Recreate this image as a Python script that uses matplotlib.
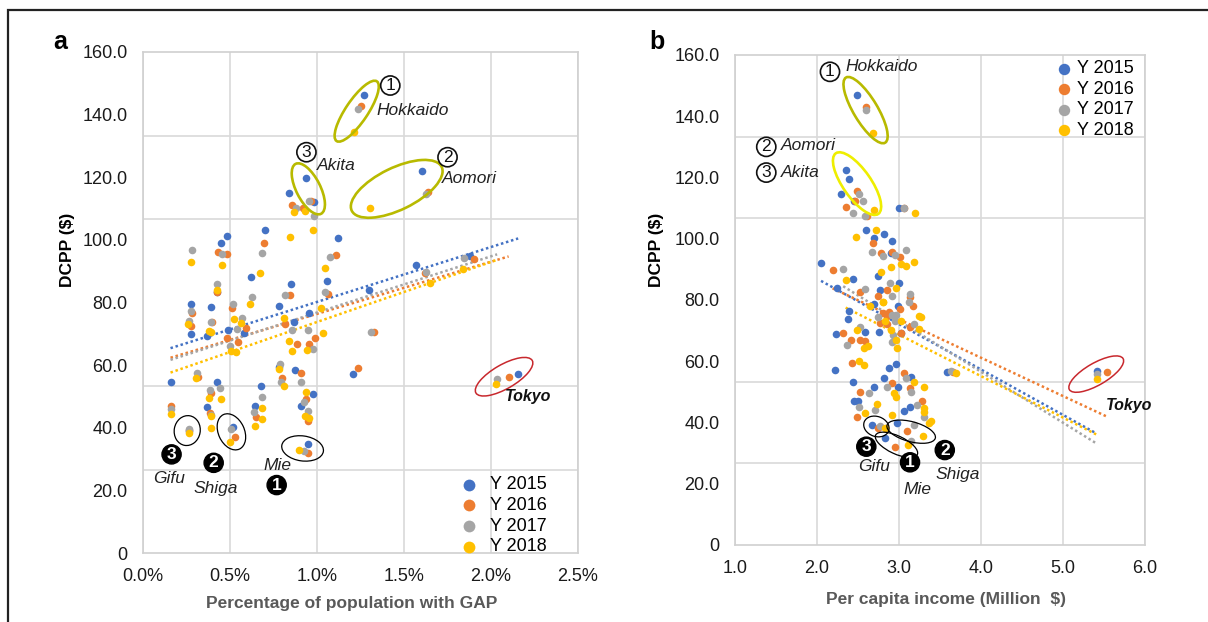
import numpy as np
import matplotlib
matplotlib.use('Agg')
import matplotlib.pyplot as plt
import matplotlib.transforms as mtransforms
from matplotlib.patches import Ellipse, Rectangle

plt.rcParams['font.family'] = ['Liberation Sans', 'DejaVu Sans']

years = ['Y 2015', 'Y 2016', 'Y 2017', 'Y 2018']
colors = ['#4472C4', '#ED7D31', '#A5A5A5', '#FFC000']

# panel a: percentage of population with GAP (%) -> DCPP ($)
gap_2015 = [(1.268, 146.3), (0.937, 119.7), (0.981, 112.0), (1.601, 122.0), (0.837, 114.9),
            (0.702, 103.3), (0.481, 101.3), (0.446, 99.0), (1.123, 100.6), (1.060, 87.0),
            (0.619, 88.2), (0.850, 85.9), (0.423, 83.5), (0.779, 79.0), (0.277, 79.5),
            (0.388, 78.6), (0.956, 76.8), (1.300, 84.0), (1.568, 91.9), (1.877, 94.9),
            (0.277, 70.1), (0.369, 69.3), (0.488, 71.3), (0.581, 70.4), (0.865, 73.9),
            (1.206, 57.1), (0.158, 54.6), (0.779, 59.5), (0.875, 58.5), (0.427, 54.6),
            (0.369, 46.6), (0.677, 53.3), (0.642, 47.1), (0.979, 50.7), (0.908, 46.9),
            (0.517, 40.3), (0.946, 34.9), (2.156, 57.2), (0.263, 39.0)]
gap_2016 = [(1.252, 142.8), (0.965, 112.3), (1.636, 115.2), (0.854, 111.1), (0.917, 110.1),
            (0.696, 99.0), (0.431, 96.0), (0.481, 95.5), (1.110, 95.1), (1.062, 82.7),
            (0.844, 82.4), (0.427, 83.4), (0.279, 76.5), (0.512, 78.4), (1.618, 89.3),
            (1.904, 93.9), (0.277, 72.5), (0.394, 73.8), (0.485, 68.8), (0.548, 67.4),
            (0.590, 72.0), (0.818, 73.1), (0.885, 66.9), (0.956, 66.9), (0.988, 68.8),
            (1.325, 70.7), (1.235, 59.2), (0.315, 56.3), (0.798, 56.0), (0.908, 57.4),
            (0.388, 51.0), (0.383, 44.6), (0.648, 43.5), (0.937, 49.1), (0.950, 42.1),
            (0.158, 47.1), (0.527, 37.1), (0.950, 32.0), (2.101, 56.3), (0.263, 39.2)]
gap_2017 = [(1.235, 141.9), (0.952, 112.5), (1.629, 114.7), (0.881, 110.2), (0.981, 107.7),
            (0.683, 95.8), (0.452, 95.5), (0.283, 96.7), (1.073, 94.4), (1.044, 83.5),
            (0.815, 82.4), (0.423, 85.9), (0.627, 81.6), (0.273, 77.3), (0.515, 79.5),
            (1.629, 89.6), (1.844, 94.3), (0.263, 74.1), (0.388, 73.8), (0.542, 71.7),
            (0.571, 75.2), (0.856, 71.3), (0.946, 71.1), (0.979, 65.1), (1.312, 70.7),
            (0.500, 66.1), (0.308, 57.6), (0.788, 60.3), (0.792, 54.6), (0.908, 54.6),
            (0.385, 52.1), (0.442, 52.8), (0.388, 44.1), (0.683, 49.8), (0.638, 45.1),
            (0.927, 48.3), (0.946, 45.3), (0.158, 45.9), (0.263, 39.7), (0.504, 39.5),
            (0.927, 32.5), (2.035, 55.7)]
gap_2018 = [(1.213, 134.6), (0.933, 109.3), (1.302, 110.2), (0.865, 108.8), (0.975, 103.3),
            (0.842, 100.9), (0.452, 92.0), (0.277, 92.8), (1.044, 90.9), (0.675, 89.3),
            (0.423, 84.0), (0.612, 79.6), (1.023, 78.1), (1.651, 86.1), (1.838, 90.7),
            (0.260, 73.1), (0.379, 70.9), (0.388, 70.6), (0.523, 74.7), (0.565, 73.4),
            (0.504, 64.5), (0.533, 64.2), (0.808, 75.2), (0.837, 67.7), (0.856, 64.5),
            (0.940, 64.9), (1.033, 70.4), (0.302, 56.0), (0.779, 58.7), (0.808, 53.3),
            (0.379, 49.4), (0.450, 49.1), (0.388, 43.7), (0.681, 46.2), (0.642, 40.5),
            (0.683, 42.7), (0.937, 51.4), (0.933, 43.7), (0.956, 43.2), (0.158, 44.5),
            (0.392, 39.8), (0.263, 38.4), (0.500, 35.4), (0.898, 32.9), (2.026, 54.1)]

# panel b: per capita income (million $) -> DCPP ($)
inc_2015 = [(2.489, 146.8), (2.35, 122.3), (2.39, 119.5), (2.29, 114.5), (2.45, 112.3),
            (3.00, 110.1), (2.60, 103.0), (2.82, 101.5), (2.69, 100.4), (2.91, 99.2),
            (2.90, 95.2), (2.05, 92.2), (2.44, 86.9), (2.24, 84.0), (2.74, 87.9),
            (3.00, 85.7), (2.77, 83.4), (2.70, 78.7), (2.99, 78.2), (2.39, 76.5),
            (2.38, 73.8), (2.23, 69.0), (2.58, 69.5), (2.76, 69.7), (3.03, 69.1),
            (2.22, 57.2), (2.44, 53.3), (2.88, 57.9), (2.97, 59.0), (3.15, 54.8),
            (2.82, 54.4), (2.99, 51.5), (2.69, 51.5), (2.45, 47.1), (2.50, 47.1),
            (3.135, 45.0), (3.06, 43.9), (2.67, 39.1), (2.98, 39.7), (2.83, 34.8),
            (5.41, 56.8), (3.58, 56.6)]
inc_2016 = [(2.593, 142.9), (2.49, 115.6), (2.47, 112.2), (2.36, 110.5), (2.61, 107.4),
            (3.06, 110.1), (2.68, 98.7), (2.78, 95.3), (2.92, 95.8), (3.01, 94.0),
            (2.19, 89.7), (2.53, 82.5), (2.85, 83.4), (2.75, 81.3), (3.17, 78.1),
            (2.32, 69.1), (2.41, 66.9), (2.52, 66.8), (2.58, 66.6), (2.43, 59.3),
            (2.81, 75.6), (2.88, 76.0), (2.86, 72.2), (3.01, 77.1), (3.03, 69.1),
            (3.14, 71.1), (2.77, 72.4), (3.13, 80.9), (3.06, 56.1), (2.92, 52.8),
            (3.135, 51.2), (2.52, 49.8), (2.49, 41.9), (3.28, 47.1), (2.74, 38.3),
            (3.10, 37.2), (2.95, 32.1), (5.54, 56.4), (3.66, 56.5), (2.85, 74.8)]
inc_2017 = [(2.593, 142.0), (2.51, 114.7), (2.56, 112.3), (2.44, 108.5), (2.59, 107.3),
            (3.06, 110.1), (2.67, 95.8), (2.81, 94.3), (2.95, 94.7), (3.09, 96.3),
            (2.32, 90.0), (2.89, 85.4), (2.58, 83.5), (2.92, 81.3), (3.13, 82.1),
            (3.125, 79.2), (2.37, 65.2), (2.53, 71.1), (2.75, 74.4), (2.96, 75.2),
            (2.93, 68.6), (3.18, 72.2), (2.91, 75.1), (2.92, 66.2), (3.09, 54.6),
            (2.85, 51.5), (3.15, 49.8), (2.63, 49.5), (2.51, 45.0), (2.71, 44.1),
            (3.215, 45.7), (3.31, 41.9), (2.77, 39.0), (3.18, 39.2), (3.15, 33.8),
            (5.41, 55.8), (3.63, 56.8), (2.95, 73.3)]
inc_2018 = [(2.687, 134.6), (2.70, 109.3), (3.19, 108.5), (2.72, 102.9), (2.48, 100.6),
            (2.90, 90.9), (3.03, 91.6), (3.09, 91.2), (3.18, 92.3), (2.35, 86.4),
            (2.78, 89.2), (2.97, 83.8), (2.81, 79.3), (2.65, 78.1), (3.25, 74.8),
            (2.49, 70.3), (2.57, 64.4), (2.62, 65.1), (2.51, 60.1), (2.57, 58.8),
            (2.90, 70.2), (3.03, 73.0), (2.96, 67.0), (2.98, 64.3), (3.24, 70.5),
            (3.27, 74.3), (2.83, 73.3), (3.18, 53.3), (3.30, 51.7), (2.94, 49.5),
            (2.97, 48.4), (2.73, 46.1), (2.59, 43.0), (3.31, 44.6), (3.31, 43.5),
            (3.39, 40.6), (3.37, 39.7), (2.92, 42.5), (2.83, 38.1), (3.29, 35.6),
            (3.11, 32.7), (5.42, 54.1), (3.70, 56.1), (2.81, 79.5)]

# highlighted prefectures: centre (data), major/minor (px), angle, colour, width
olive, lemon, red = '#B8BA00', '#EEEE00', '#C8282D'
rings_a = [(1.228, 141.1, 72, 22, 56, olive, 1.9), (0.950, 116.3, 56, 24, 117, olive, 1.9),
           (1.458, 116.3, 100, 42, 26, olive, 1.9), (2.075, 56.3, 65, 24, 30, red, 1.1),
           (0.254, 39.1, 30, 26, 80, 'k', 0.9), (0.508, 38.7, 38, 26, 115, 'k', 0.9),
           (0.917, 33.4, 42, 25, -8, 'k', 0.9)]
rings_b = [(2.593, 142.0, 76, 24, 121, olive, 1.9), (2.489, 118.0, 74, 28, 125, lemon, 1.9),
           (5.406, 55.8, 62, 22, 30, red, 1.1), (2.725, 38.7, 26, 20, -20, 'k', 0.9),
           (3.149, 37.0, 50, 20, -15, 'k', 0.9), (2.970, 32.7, 46, 18, -25, 'k', 0.9)]
notes_a = [(1.421, 149.3, '1', 'circ'), (1.344, 141.3, 'Hokkaido', 'it'),
           (0.939, 128.0, '3', 'circ'), (1.000, 123.7, 'Akita', 'it'),
           (1.750, 126.4, '2', 'circ'), (1.717, 119.5, 'Aomori', 'it'),
           (2.079, 50.1, 'Tokyo', 'bi'), (0.057, 23.8, 'Gifu', 'it'),
           (0.164, 31.5, '3', 'neg'), (0.292, 20.6, 'Shiga', 'it'),
           (0.406, 28.8, '2', 'neg'), (0.693, 28.1, 'Mie', 'it'),
           (0.768, 21.7, '1', 'neg')]
notes_b = [(2.159, 154.5, '1', 'circ'), (2.343, 156.2, 'Hokkaido', 'it'),
           (1.382, 130.0, '2', 'circ'), (1.565, 130.3, 'Aomori', 'it'),
           (1.382, 121.6, '3', 'circ'), (1.565, 121.6, 'Akita', 'it'),
           (5.529, 45.4, 'Tokyo', 'bi'), (2.602, 32.1, '3', 'neg'),
           (2.508, 25.6, 'Gifu', 'it'), (3.135, 27.0, '1', 'neg'),
           (3.055, 18.2, 'Mie', 'it'), (3.559, 31.0, '2', 'neg'),
           (3.441, 23.1, 'Shiga', 'it')]

fig = plt.figure(figsize=(12.08, 6.22), dpi=100)
fig.patches.append(Rectangle((8 / 1208, -0.1), 1.2, 1.1 - 10 / 622, fill=False,
                             ec='#222222', lw=1.6, transform=fig.transFigure, zorder=0))

ax_a = fig.add_axes([0.1184, 0.1109, 0.3601, 0.8055])
ax_b = fig.add_axes([0.6084, 0.1238, 0.3394, 0.7878])


def ring(ax, cx, cy, w, h, ang, col, lw):
    tr = fig.dpi_scale_trans + mtransforms.ScaledTranslation(cx, cy, ax.transData)
    ax.add_patch(Ellipse((0, 0), w / 100, h / 100, angle=ang, transform=tr,
                         fill=False, ec=col, lw=lw, zorder=5))


def note(ax, x, y, s, kind):
    if kind == 'circ':
        ax.text(x, y, s, ha='center', va='center', fontsize=12.5, color='#111111', zorder=6,
                bbox=dict(boxstyle='circle,pad=0.12', fc='white', ec='#111111', lw=1.2))
    elif kind == 'neg':
        ax.text(x, y, s, ha='center', va='center', fontsize=12.5, color='white',
                fontweight='bold', zorder=6,
                bbox=dict(boxstyle='circle,pad=0.12', fc='black', ec='black', lw=1))
    elif kind == 'bi':
        ax.text(x, y, s, ha='left', va='center', fontsize=11.5, style='italic',
                fontweight='bold', color='#111111', zorder=6)
    else:
        ax.text(x, y, s, ha='left', va='center', fontsize=12.5, style='italic',
                color='#222222', zorder=6)


def panel(ax, series, xlim, xticks, xfmt, xlabel, xl_pos, yl_pos, rings, notes):
    for pts, lab, c in zip(series, years, colors):
        p = np.array(pts)
        ax.scatter(p[:, 0], p[:, 1], s=30, color=c, lw=0, label=lab, zorder=3)
    for pts, c in zip(series, colors):
        p = np.array(pts)
        k, b = np.polyfit(p[:, 0], p[:, 1], 1)
        xs = np.array([p[:, 0].min(), p[:, 0].max()])
        ax.plot(xs, k * xs + b, ls=(0, (1, 1.1)), lw=1.8, color=c, zorder=2)
    ax.set_xlim(*xlim)
    ax.set_ylim(0, 160)
    ax.set_xticks(xticks)
    ax.set_xticklabels([xfmt(v) for v in xticks])
    ax.set_yticks(np.arange(0, 161, 20))
    ax.set_yticklabels(['0' if v == 0 else '%.1f' % v for v in np.arange(0, 161, 20)])
    ax.set_yticks(np.linspace(0, 160, 7), minor=True)
    ax.set_axisbelow(True)
    ax.xaxis.grid(True, which='major', color='#D9D9D9', lw=1.2)
    ax.yaxis.grid(True, which='minor', color='#D9D9D9', lw=1.2)
    ax.tick_params(which='both', length=0, labelsize=13, colors='#1a1a1a')
    ax.tick_params(axis='y', pad=11)
    ax.tick_params(axis='x', pad=11)
    for s in ax.spines.values():
        s.set_color('#D0D0D0')
        s.set_linewidth(1.2)
    ax.set_xlabel(xlabel, fontsize=12.5, fontweight='bold', color='#595959')
    ax.xaxis.set_label_coords(*xl_pos)
    ax.set_ylabel('DCPP ($)', fontsize=12.5, fontweight='bold', color='black')
    ax.yaxis.set_label_coords(*yl_pos)
    for r in rings:
        ring(ax, *r)
    for n in notes:
        note(ax, *n)


panel(ax_a, [gap_2015, gap_2016, gap_2017, gap_2018], (0, 2.5),
      np.arange(0, 2.51, 0.5), lambda v: '%.1f%%' % v,
      'Percentage of population with GAP', (0.48, -0.086), (-0.156, 0.605),
      rings_a, notes_a)
panel(ax_b, [inc_2015, inc_2016, inc_2017, inc_2018], (1, 6),
      np.arange(1, 6.01, 1), lambda v: '%.1f' % v,
      'Per capita income (Million  $)', (0.514, -0.096), (-0.173, 0.602),
      rings_b, notes_b)

ax_a.legend(loc='lower right', bbox_to_anchor=(0.946, -0.019), frameon=False, fontsize=13,
            markerscale=1.55, handlelength=1.0, handletextpad=0.67, labelspacing=0.2,
            borderaxespad=0)
ax_b.legend(loc='upper right', bbox_to_anchor=(0.99, 1.004), frameon=False, fontsize=13,
            markerscale=1.5, handlelength=1.0, handletextpad=0.22, labelspacing=0.2,
            borderaxespad=0)

fig.text(60 / 1208, 1 - 42 / 622, 'a', fontsize=18, fontweight='bold', ha='center', va='center')
fig.text(657 / 1208, 1 - 42 / 622, 'b', fontsize=18, fontweight='bold', ha='center', va='center')

fig.savefig('out.png', dpi=100)
